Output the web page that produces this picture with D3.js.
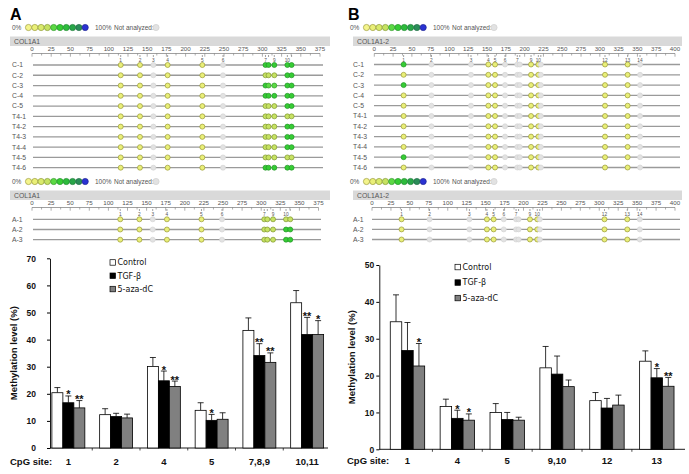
<!DOCTYPE html>
<html>
<head>
<meta charset="utf-8">
<script src="https://cdn.jsdelivr.net/npm/d3@7"></script>
<style>
  body { margin: 0; background: #fff; }
  svg { display: block; }
  .lbl { font-family: "Liberation Sans", Arial, sans-serif; fill: #555; }
  .bar-text { font-family: "Liberation Sans", Arial, sans-serif; font-weight: bold; fill: #111; }
  .leg-text { font-family: "DejaVu Sans", sans-serif; fill: #111; }
</style>
</head>
<body>
<div id="root"></div>
<script>
// ---- methylation colour key (0% .. 100%) ----
const levelColors = ['#f4f48c', '#e9ef78', '#d9ea6c', '#c6e262', '#5cd944', '#36cc34', '#2dbb3c', '#28a648', '#2b8d58', '#2a32d2']
const levelStrokes = ['#9c9c3c', '#9a9a36', '#8f9a34', '#7f9630', '#2f9a2a', '#229426', '#1d8a2c', '#1a7a36', '#1c6a42', '#1a1f90']
const naColor = '#e2e2e2'

// ---- COL1A1 (panel A) ----
const sitesA = ['1', '2', '3', '4', '5', '6', '7', '8', '9', '10', '11']
const posA = [115.5, 140.6, 158, 176.6, 221.8, 248.7, 304, 308, 315.5, 332.5, 338]
const labelA = [true, true, true, true, true, true, true, false, true, true, false]
const rowsA1 = ['C-1', 'C-2', 'C-3', 'C-4', 'C-5', 'T4-1', 'T4-2', 'T4-3', 'T4-4', 'T4-5', 'T4-6']
// level index per site, -1 = not analyzed
const statusA1 = [
  [1, 1, -1, 1, 1, -1, 5, 5, 5, 5, 5],
  [1, 1, -1, 1, 1, -1, 3, 3, 3, 5, 5],
  [1, 1, -1, 1, 1, -1, 5, 4, 4, 5, 5],
  [1, 1, -1, 1, 1, -1, 5, 5, 5, 5, 5],
  [1, 1, -1, 1, 1, -1, 3, 3, 3, 5, 5],
  [1, 1, -1, 1, 1, -1, 3, 3, 3, 3, 3],
  [1, 1, -1, 1, 1, -1, 3, 3, 3, 5, 5],
  [1, 1, -1, 1, 1, -1, 3, 3, 3, 5, 5],
  [1, 1, -1, 1, 1, -1, 3, 3, 3, 5, 5],
  [1, 1, -1, 1, 1, -1, 3, 3, 3, 3, 3],
  [1, 1, -1, 1, 1, -1, 5, 5, 5, 5, 5],
]
const rowsA2 = ['A-1', 'A-2', 'A-3']
const statusA2 = [
  [1, 1, -1, 1, 1, -1, 3, 3, 3, 3, 3],
  [1, 1, -1, 1, 1, -1, 3, 3, 3, 5, 5],
  [1, 1, -1, 1, 1, -1, 3, 3, 3, 5, 5],
]

// ---- COL1A1-2 (panel B) ----
const sitesB = ['1', '2', '3', '4', '5', '6', '7', '8', '9', '10', '11', '12', '13', '14']
const posB = [39, 76, 128.6, 151.7, 160.6, 173.9, 190.2, 193.5, 208.5, 218.2, 221.5, 306.9, 337, 353.5]
const labelB = [true, true, true, true, true, true, true, false, true, true, false, true, true, true]
const rowBase = [1, -1, -1, 1, 1, -1, -1, -1, 1, 1, -1, 1, 1, -1]
const rowsB1 = ['C-1', 'C-2', 'C-3', 'C-4', 'C-5', 'T4-1', 'T4-2', 'T4-3', 'T4-4', 'T4-5', 'T4-6']
const site1B = [5, 1, 5, 1, 1, 1, 1, 1, 1, 5, 1]
const rowsB2 = ['A-1', 'A-2', 'A-3']
const site1B2 = [1, 1, 1]

// ---- bar charts ----
const groups = ['Control', 'TGF-β', '5-aza-dC']
const groupFill = ['#ffffff', '#000000', '#808080']

const cpgA = ['1', '2', '4', '5', '7,8,9', '10,11']
const meanA = [
  [20.4, 16.7, 14.8],
  [12.3, 11.6, 11.1],
  [30.1, 24.8, 22.7],
  [13.9, 10.2, 10.6],
  [43.4, 34.1, 31.6],
  [53.6, 41.9, 41.9],
]
const errA = [
  [22.3, 19.2, 17.5],
  [14.5, 12.8, 12.5],
  [33.4, 28.4, 24.7],
  [16.7, 12.4, 13.0],
  [48.0, 38.5, 35.1],
  [58.1, 48.2, 47.0],
]
const starsA = [
  ['', '*', '**'],
  ['', '', ''],
  ['', '*', '**'],
  ['', '*', ''],
  ['', '**', '**'],
  ['', '**', '*'],
]

const cpgB = ['1', '4', '5', '9,10', '12', '13']
const meanB = [
  [34.6, 26.8, 22.6],
  [11.6, 8.4, 7.9],
  [10.0, 8.1, 7.9],
  [22.1, 20.4, 17.0],
  [13.2, 11.2, 12.0],
  [23.9, 19.4, 17.1],
]
const errB = [
  [41.9, 34.4, 28.7],
  [13.6, 10.6, 9.6],
  [12.4, 10.0, 8.7],
  [27.9, 25.3, 18.8],
  [15.4, 13.8, 14.7],
  [26.7, 21.9, 19.5],
]
const starsB = [
  ['', '', '*'],
  ['', '*', '*'],
  ['', '', ''],
  ['', '', ''],
  ['', '', ''],
  ['', '*', '**'],
]

const W = 689, H = 474
const svg = d3.select('#root').append('svg').attr('width', W).attr('height', H)

function colourKey(g, x0, y) {
  g.append('text').attr('class', 'lbl').attr('x', x0).attr('y', y + 2.3)
    .attr('font-size', 6.5).text('0%')
  g.selectAll('circle.key').data(levelColors).join('circle')
    .attr('class', 'key')
    .attr('cx', (d, i) => x0 + 16.5 + i * 6.3)
    .attr('cy', y)
    .attr('r', 3.1)
    .attr('fill', d => d)
    .attr('stroke', (d, i) => levelStrokes[i])
    .attr('stroke-width', 0.7)
  g.append('text').attr('class', 'lbl').attr('x', x0 + 83).attr('y', y + 2.3)
    .attr('font-size', 6.5).text('100%')
  g.append('text').attr('class', 'lbl').attr('x', x0 + 102).attr('y', y + 2.3)
    .attr('font-size', 6.5).text('Not analyzed:')
  g.append('circle').attr('cx', x0 + 144).attr('cy', y).attr('r', 3.1)
    .attr('fill', naColor).attr('stroke', '#d0d0d0').attr('stroke-width', 0.7)
}

function lollipop(cfg) {
  const g = svg.append('g')
  const x = d3.scaleLinear().domain([0, cfg.max]).range(cfg.xRange)
  const y = d3.scalePoint().domain(cfg.rows).range(cfg.yRange)

  colourKey(g, cfg.keyX, cfg.top)

  // gene header band
  g.append('rect').attr('x', cfg.band[0]).attr('y', cfg.top + 9)
    .attr('width', cfg.band[1] - cfg.band[0]).attr('height', 9.5).attr('fill', '#d9d9d9')
  g.append('text').attr('class', 'lbl').attr('x', cfg.band[0] + 4).attr('y', cfg.top + 16.2)
    .attr('font-size', 6.8).attr('fill', '#444').text(cfg.gene)

  // position axis
  const axisY = cfg.top + 26
  const major = d3.range(0, cfg.max + 1, 25)
  const minor = d3.range(12.5, cfg.max, 25)
  g.append('line').attr('x1', x(0)).attr('x2', x(cfg.max))
    .attr('y1', axisY).attr('y2', axisY).attr('stroke', '#777').attr('stroke-width', 0.7)
  g.selectAll('text.tk').data(major).join('text')
    .attr('class', 'lbl tk')
    .attr('x', d => x(d)).attr('y', axisY - 2.5)
    .attr('text-anchor', 'middle').attr('font-size', 6.2).text(d => d)
  g.selectAll('line.tkM').data(major).join('line')
    .attr('class', 'tkM')
    .attr('x1', d => x(d)).attr('x2', d => x(d))
    .attr('y1', axisY).attr('y2', axisY + 3.2).attr('stroke', '#777').attr('stroke-width', 0.6)
  g.selectAll('line.tkm').data(minor).join('line')
    .attr('class', 'tkm')
    .attr('x1', d => x(d)).attr('x2', d => x(d))
    .attr('y1', axisY).attr('y2', axisY + 2).attr('stroke', '#777').attr('stroke-width', 0.6)

  // CpG site numbers
  g.selectAll('line.site').data(cfg.pos).join('line')
    .attr('class', 'site')
    .attr('x1', d => x(d)).attr('x2', d => x(d))
    .attr('y1', axisY + 1.5).attr('y2', axisY + 3.5).attr('stroke', '#444').attr('stroke-width', 0.5)
  g.selectAll('text.site').data(cfg.sites.filter((s, i) => cfg.labels[i])).join('text')
    .attr('class', 'lbl site')
    .attr('x', s => x(cfg.pos[cfg.sites.indexOf(s)]))
    .attr('y', axisY + 8)
    .attr('text-anchor', 'middle').attr('font-size', 4.8).attr('fill', '#333').text(s => s)

  // sample rows
  const rowG = g.selectAll('g.row').data(cfg.rows).join('g').attr('class', 'row')
    .attr('transform', r => `translate(0,${y(r)})`)
  rowG.append('text').attr('class', 'lbl').attr('x', cfg.labelX).attr('y', 2.4)
    .attr('font-size', 6.8).text(r => r)
  rowG.append('line').attr('x1', cfg.line[0]).attr('x2', cfg.line[1])
    .attr('stroke', '#9a9a9a').attr('stroke-width', 1.3)
  rowG.selectAll('circle').data((r, ri) => cfg.status[ri].map((lv, si) => ({ lv, si })))
    .join('circle')
    .attr('cx', d => x(cfg.pos[d.si]))
    .attr('r', 2.5)
    .attr('fill', d => d.lv < 0 ? naColor : levelColors[d.lv])
    .attr('stroke', d => d.lv < 0 ? '#d4d4d4' : levelStrokes[d.lv])
    .attr('stroke-width', 0.7)
}

lollipop({ gene: 'COL1A1', max: 375, xRange: [32, 320], sites: sitesA, pos: posA, labels: labelA,
  rows: rowsA1, status: statusA1, yRange: [65, 167.7], top: 27.5, keyX: 12,
  band: [10, 330], line: [33, 323], labelX: 12 })
lollipop({ gene: 'COL1A1', max: 375, xRange: [32, 318.5], sites: sitesA, pos: posA, labels: labelA,
  rows: rowsA2, status: statusA2, yRange: [219.3, 239.7], top: 181.5, keyX: 12,
  band: [10, 330], line: [33, 321], labelX: 12 })

const statusB1 = site1B.map(v => rowBase.map((b, i) => i === 0 ? v : b))
const statusB2 = site1B2.map(v => rowBase.map((b, i) => i === 0 ? v : b))
lollipop({ gene: 'COL1A1-2', max: 400, xRange: [374.3, 675], sites: sitesB, pos: posB, labels: labelB,
  rows: rowsB1, status: statusB1, yRange: [64.5, 167.5], top: 27.5, keyX: 350,
  band: [353, 682], line: [374, 680], labelX: 353 })
lollipop({ gene: 'COL1A1-2', max: 400, xRange: [372, 675], sites: sitesB, pos: posB, labels: labelB,
  rows: rowsB2, status: statusB2, yRange: [219.3, 239.5], top: 181.5, keyX: 350,
  band: [353, 682], line: [372, 680], labelX: 353 })

// panel letters
svg.append('text').attr('x', 10).attr('y', 20).attr('font-family', 'Liberation Sans, Arial, sans-serif')
  .attr('font-weight', 'bold').attr('font-size', 16).text('A')
svg.append('text').attr('x', 348).attr('y', 20).attr('font-family', 'Liberation Sans, Arial, sans-serif')
  .attr('font-weight', 'bold').attr('font-size', 16).text('B')

function barChart(cfg) {
  const g = svg.append('g')
  const x = d3.scaleBand().domain(cfg.cats).range(cfg.xRange)
    .paddingInner(0.31).paddingOuter(cfg.outer)
  const xs = d3.scaleBand().domain(groups).range([0, x.bandwidth()])
  const y = d3.scaleLinear().domain([0, cfg.max]).range(cfg.yRange)

  // y axis
  const ay = g.append('g').attr('transform', `translate(${cfg.axisX},0)`)
    .call(d3.axisLeft(y).tickValues(d3.range(0, cfg.max + 1, 10)).tickSize(3).tickSizeOuter(0))
  ay.select('.domain').attr('stroke', '#000').attr('stroke-width', 0.9)
  ay.selectAll('.tick line').attr('stroke', '#000')
  ay.selectAll('.tick text').attr('class', 'bar-text').attr('font-size', 8.5).attr('x', -cfg.labelGap)
    .attr('font-family', 'Liberation Sans, Arial, sans-serif')

  // x axis line with small ticks between groups
  g.append('line').attr('x1', cfg.axisX).attr('x2', cfg.axisEnd)
    .attr('y1', y(0)).attr('y2', y(0)).attr('stroke', '#000').attr('stroke-width', 0.9)
  const seps = cfg.cats.slice(1).map(c => x(c) - x.step() * x.paddingInner() / 2)
  g.selectAll('line.sep').data(seps).join('line').attr('class', 'sep')
    .attr('x1', d => d).attr('x2', d => d).attr('y1', y(0)).attr('y2', y(0) + 2.5)
    .attr('stroke', '#000').attr('stroke-width', 0.7)

  const bars = []
  cfg.cats.forEach((c, ci) => groups.forEach((gr, gi) => bars.push({
    c, gi, v: cfg.mean[ci][gi], e: cfg.err[ci][gi], s: cfg.stars[ci][gi]
  })))

  const bx = d => x(d.c) + xs(groups[d.gi])
  const bw = xs.bandwidth()

  // error bars (upper only)
  g.selectAll('line.err').data(bars).join('line').attr('class', 'err')
    .attr('x1', d => bx(d) + bw / 2).attr('x2', d => bx(d) + bw / 2)
    .attr('y1', d => y(d.v)).attr('y2', d => y(d.e))
    .attr('stroke', '#000').attr('stroke-width', 0.8)
  g.selectAll('line.cap').data(bars).join('line').attr('class', 'cap')
    .attr('x1', d => bx(d) + bw / 2 - 3).attr('x2', d => bx(d) + bw / 2 + 3)
    .attr('y1', d => y(d.e)).attr('y2', d => y(d.e))
    .attr('stroke', '#000').attr('stroke-width', 0.8)

  g.selectAll('rect.bar').data(bars).join('rect').attr('class', 'bar')
    .attr('x', bx).attr('width', bw)
    .attr('y', d => y(d.v)).attr('height', d => y(0) - y(d.v))
    .attr('fill', d => groupFill[d.gi]).attr('stroke', '#000').attr('stroke-width', 0.8)

  g.selectAll('text.star').data(bars.filter(d => d.s)).join('text').attr('class', 'bar-text star')
    .attr('x', d => bx(d) + bw / 2).attr('y', d => y(d.e) + 2.5)
    .attr('text-anchor', 'middle').attr('font-size', 11).text(d => d.s)

  // category labels
  g.selectAll('text.cat').data(cfg.cats).join('text').attr('class', 'bar-text cat')
    .attr('x', c => x(c) + x.bandwidth() / 2).attr('y', cfg.catY)
    .attr('text-anchor', 'middle').attr('font-size', 9.5).text(c => c)
  g.append('text').attr('class', 'bar-text').attr('x', cfg.cpgX).attr('y', cfg.catY)
    .attr('font-size', 9.5).text('CpG site:')

  g.append('text').attr('class', 'bar-text')
    .attr('transform', `translate(${cfg.titleX},${(cfg.yRange[0] + cfg.yRange[1]) / 2}) rotate(-90)`)
    .attr('text-anchor', 'middle').attr('font-size', 9.5).text('Methylation level (%)')

  // legend
  const lg = g.selectAll('g.leg').data(groups).join('g').attr('class', 'leg')
    .attr('transform', (d, i) => `translate(${cfg.legX},${cfg.legY + i * cfg.legStep})`)
  lg.append('rect').attr('x', 0).attr('y', -3).attr('width', 5.5).attr('height', 5.5)
    .attr('fill', (d, i) => groupFill[i]).attr('stroke', '#000').attr('stroke-width', 0.7)
  lg.append('text').attr('class', 'leg-text').attr('x', 7.5).attr('y', 2.6)
    .attr('font-size', 8).text(d => d)
}

barChart({ cats: cpgA, mean: meanA, err: errA, stars: starsA, max: 70,
  xRange: [49.5, 326], outer: 0.05, yRange: [448, 258.3], axisX: 50, axisEnd: 328, labelGap: 14,
  catY: 464.5, cpgX: 10, titleX: 17, legX: 110, legY: 262.7, legStep: 13.3 })
barChart({ cats: cpgB, mean: meanB, err: errB, stars: starsB, max: 50,
  xRange: [379.3, 685], outer: 0.22, yRange: [449.3, 265], axisX: 379.3, axisEnd: 685, labelGap: 5,
  catY: 464, cpgX: 347, titleX: 355, legX: 455, legY: 267.3, legStep: 15.5 })
</script>
</body>
</html>
